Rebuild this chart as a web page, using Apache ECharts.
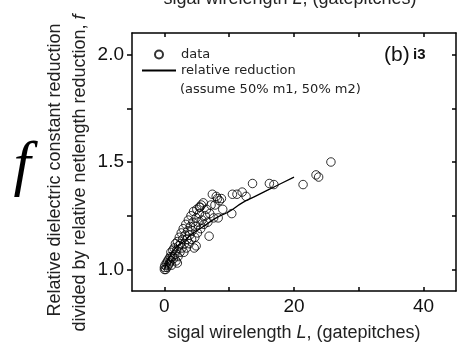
<!DOCTYPE html>
<html>
<head>
<meta charset="utf-8">
<script src="https://cdn.jsdelivr.net/npm/echarts@6/dist/echarts.min.js"></script>
<style>
  html, body { margin: 0; padding: 0; background: #fff; }
  #chart { width: 459px; height: 347px; }
</style>
</head>
<body>
<div id="chart"></div>
<script>
// measured points: signal wirelength L (gatepitches) vs ratio f
const dataL = [
  0, 0, 0.1, 0.2, 0.3, 0.4, 0.5, 0.6, 0.7, 0.8, 0.9, 1.0, 1.0, 1.1, 1.2, 1.3, 1.4, 1.5, 1.6, 1.7,
  1.8, 1.9, 2.0, 2.1, 2.2, 2.3, 2.4, 2.5, 2.6, 2.7, 2.8, 2.9, 3.0, 3.1, 3.2, 3.3, 3.4, 3.5, 3.6, 3.7,
  3.8, 3.9, 4.0, 4.1, 4.2, 4.3, 4.4, 4.5, 4.6, 4.7, 4.8, 4.9, 5.0, 5.1, 5.2, 5.4, 5.5, 5.6, 5.8, 6.0,
  6.1, 6.3, 6.5, 6.7, 6.9, 7.0, 7.2, 7.4, 7.6, 7.8, 8.0, 8.2, 8.3, 8.5, 8.8, 9.0, 10.4, 10.5, 11.2, 12.0,
  12.6, 13.6, 16.2, 16.9, 21.4, 23.4, 23.8, 25.7, 4.9, 2.0, 5.4, 5.7
];
const dataF = [
  1.00, 1.01, 1.02, 1.00, 1.03, 1.01, 1.04, 1.02, 1.05, 1.03, 1.06, 1.04, 1.08, 1.02, 1.06, 1.09, 1.05, 1.10, 1.07, 1.12,
  1.04, 1.09, 1.13, 1.06, 1.11, 1.15, 1.08, 1.12, 1.17, 1.10, 1.14, 1.19, 1.08, 1.12, 1.16, 1.21, 1.10, 1.14, 1.18, 1.23,
  1.12, 1.16, 1.20, 1.25, 1.14, 1.18, 1.22, 1.27, 1.10, 1.15, 1.20, 1.24, 1.28, 1.17, 1.22, 1.26, 1.29, 1.19, 1.23, 1.31,
  1.21, 1.25, 1.28, 1.22, 1.155, 1.26, 1.30, 1.35, 1.24, 1.30, 1.34, 1.33, 1.24, 1.32, 1.33, 1.28, 1.26, 1.35, 1.35, 1.36,
  1.34, 1.40, 1.40, 1.395, 1.395, 1.44, 1.43, 1.50, 1.11, 1.03, 1.29, 1.30
];

// model curve: relative reduction
const curveL = [0, 0.5, 1, 2, 3, 4, 5, 6, 8, 10, 12, 14, 16, 18, 20];
const curveF = [1.0, 1.04, 1.07, 1.11, 1.13, 1.16, 1.18, 1.20, 1.24, 1.27, 1.31, 1.34, 1.37, 1.40, 1.43];

const xTicks = [0, 10, 20, 30, 40];
const xLabels = [0, 20, 40];
const yTicks = [1.0, 1.25, 1.5, 1.75, 2.0];
const yLabels = [1.0, 1.5, 2.0];

const chart = echarts.init(document.getElementById('chart'));

const axisLine = {show: true, onZero: false, lineStyle: {color: '#000', width: 1.5}};
const tickStyle = {color: '#000', width: 1.5};
const font = 'Liberation Sans, Arial';

let option = {
  animation: false,
  backgroundColor: '#fff',
  grid: {left: 132, right: 3, top: 33, bottom: 54},
  legend: {
    left: 141,
    top: 48,
    padding: 0,
    orient: 'vertical',
    itemWidth: 34,
    itemHeight: 8,
    itemGap: 3,
    textStyle: {fontFamily: 'DejaVu Sans', fontSize: 13, color: '#222', lineHeight: 13},
    data: [
      {name: 'data', icon: 'circle'},
      {name: 'relative reduction', itemStyle: {opacity: 0}}
    ]
  },
  xAxis: [
    {
      type: 'value',
      min: -5,
      max: 45,
      axisLine: axisLine,
      splitLine: {show: false},
      axisTick: {inside: true, length: 4, customValues: xTicks, lineStyle: tickStyle},
      axisLabel: {customValues: xLabels, fontFamily: font, fontSize: 19, color: '#111', margin: 6},
      name: '{n|sigal wirelength }{i|L}{n|, (gatepitches)}',
      nameLocation: 'middle',
      nameGap: 33,
      nameTextStyle: {
        rich: {
          n: {fontFamily: font, fontSize: 18, color: '#222'},
          i: {fontFamily: font, fontSize: 18, color: '#222', fontStyle: 'italic'}
        }
      }
    },
    {
      type: 'value',
      position: 'top',
      min: -5,
      max: 45,
      axisLine: axisLine,
      splitLine: {show: false},
      axisTick: {inside: true, length: 4, customValues: xTicks, lineStyle: tickStyle},
      axisLabel: {show: false}
    }
  ],
  yAxis: [
    {
      type: 'value',
      min: 0.9,
      max: 2.1,
      axisLine: axisLine,
      splitLine: {show: false},
      axisTick: {inside: false, length: 5, customValues: yTicks, lineStyle: tickStyle},
      axisLabel: {
        customValues: yLabels,
        fontFamily: font,
        fontSize: 19,
        color: '#111',
        margin: 8,
        formatter: v => v.toFixed(1)
      }
    },
    {
      type: 'value',
      position: 'right',
      min: 0.9,
      max: 2.1,
      axisLine: axisLine,
      splitLine: {show: false},
      axisTick: {inside: true, length: 4, customValues: yTicks, lineStyle: tickStyle},
      axisLabel: {show: false}
    }
  ],
  series: [
    {
      name: 'data',
      type: 'scatter',
      data: dataL.map((l, i) => [l, dataF[i]]),
      symbol: 'circle',
      symbolSize: 8.5,
      itemStyle: {color: 'rgba(255,255,255,0)', borderColor: '#000', borderWidth: 1}
    },
    {
      name: 'relative reduction',
      type: 'line',
      data: curveL.map((l, i) => [l, curveF[i]]),
      symbol: 'none',
      showSymbol: false,
      smooth: true,
      lineStyle: {color: '#000', width: 1.3},
      itemStyle: {color: '#000'}
    }
  ],
  graphic: [
    {
      type: 'text',
      x: 180, y: 90,
      style: {text: '(assume 50% m1, 50% m2)', fontFamily: 'DejaVu Sans', fontSize: 13, fill: '#222', verticalAlign: 'middle'}
    },
    {
      type: 'text',
      x: 384, y: 55,
      style: {
        text: '{a|(b)} {b|i3}',
        verticalAlign: 'middle',
        rich: {
          a: {fontFamily: font, fontSize: 21, fill: '#111'},
          b: {fontFamily: font, fontSize: 15, fontWeight: 'bold', fill: '#111'}
        }
      }
    },
    {
      type: 'text',
      x: 55, y: 170,
      rotation: Math.PI / 2,
      style: {
        text: 'Relative dielectric constant reduction',
        fontFamily: font, fontSize: 18, fill: '#222',
        align: 'center', verticalAlign: 'middle'
      }
    },
    {
      type: 'text',
      x: 80, y: 173,
      rotation: Math.PI / 2,
      style: {
        text: '{n|divided by relative netlength reduction, }{i|f}',
        align: 'center', verticalAlign: 'middle',
        rich: {
          n: {fontFamily: font, fontSize: 18, fill: '#222'},
          i: {fontFamily: font, fontSize: 18, fill: '#222', fontStyle: 'italic'}
        }
      }
    },
    {
      type: 'text',
      x: 22, y: 168,
      style: {
        text: 'f',
        fontFamily: 'Liberation Serif, Times New Roman',
        fontStyle: 'italic',
        fontSize: 62,
        fill: '#000',
        align: 'center', verticalAlign: 'middle'
      }
    },
    {
      type: 'text',
      x: 290, y: 8,
      style: {
        text: '{n|sigal wirelength }{i|L}{n|, (gatepitches)}',
        align: 'center', verticalAlign: 'bottom',
        rich: {
          n: {fontFamily: font, fontSize: 18, fill: '#222'},
          i: {fontFamily: font, fontSize: 18, fill: '#222', fontStyle: 'italic'}
        }
      }
    }
  ]
};
chart.setOption(option);
</script>
</body>
</html>
